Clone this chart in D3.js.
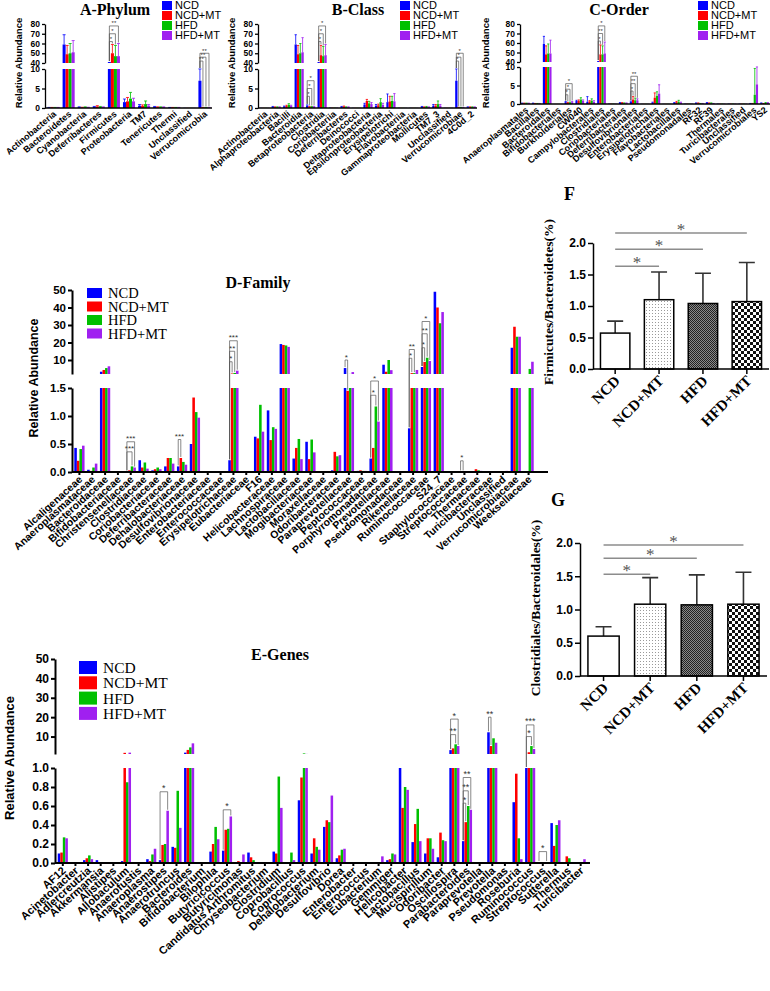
<!DOCTYPE html>
<html><head><meta charset="utf-8">
<script src="https://cdn.jsdelivr.net/npm/d3@7"></script>
<style>body{margin:0;background:#fff}svg{display:block}</style>
</head><body><svg id="c" width="770" height="991"></svg>
<script>
const groups = ["NCD","NCD+MT","HFD","HFD+MT"];
const colors = ["#0000ff","#ff0000","#00c000","#a020f0"];

// ---------- A Phylum ----------
const phylum = ["Actinobacteria","Bacteroidetes","Cyanobacteria","Deferribacteres","Firmicutes","Proteobacteria","TM7","Tenericutes","Thermi","Unclassified","Verrucomicrobia"];
const phylumNCD   = [0.1, 59, 0.2, 0.3, 41, 1.5, 0.6, 0.3, 0.1, 0.05, 7];
const phylumNCDMT = [0.1, 49, 0.1, 0.4, 50, 1.7, 0.5, 0.2, 0.1, 0.05, 0.1];
const phylumHFD   = [0.1, 50, 0.2, 0.3, 47, 2.4, 1.0, 0.2, 0.1, 0.05, 0.1];
const phylumHFDMT = [0.1, 51, 0.1, 0.2, 47, 1.7, 0.6, 0.2, 0.1, 0.05, 0.1];
const phylumSdNCD   = [0.05, 10, 0.1, 0.1, 0, 0.8, 0.3, 0.1, 0.05, 0, 3.2];
const phylumSdNCDMT = [0.05, 9, 0.1, 0.2, 9, 1.0, 0.3, 0.1, 0.05, 0, 0.05];
const phylumSdHFD   = [0.05, 10, 0.1, 0.1, 11, 1.6, 0.8, 0.1, 0.05, 0, 0.05];
const phylumSdHFDMT = [0.05, 12, 0.1, 0.1, 13, 0.8, 0.3, 0.1, 0.05, 0, 0.05];
const sigA = [["Firmicutes",0,1,62,"*"],["Firmicutes",0,2,70,"*"],["Firmicutes",0,3,78,"**"],
  ["Verrucomicrobia",0,1,42,"**"],["Verrucomicrobia",0,2,46,"**"],["Verrucomicrobia",0,3,50,"**"]];

// ---------- B Class ----------
const classes = ["Actinobacteria","Alphaproteobacteria","Bacilli","Bacteroidia","Betaproteobacteria","Clostridia","Coriobacteriia","Deferribacteres","Deinococci","Deltaproteobacteria","Epsilonproteobacteria","Erysipelotrichi","Flavobacteriia","Gammaproteobacteria","Mollicutes","TM7_3","Unclassified","Verrucomicrobiae","4C0d_2"];
const classNCD   = [0.05, 0.3, 0.4, 59, 0.6, 41, 0.1, 0.3, 0.05, 0.9, 0.6, 1.5, 0.05, 0.05, 0.3, 0.6, 0.05, 7, 0.2];
const classNCDMT = [0.05, 0.2, 0.5, 49, 0.3, 48, 0.1, 0.4, 0.05, 1.8, 0.7, 1.7, 0.05, 0.05, 0.2, 0.6, 0.05, 0.1, 0.2];
const classHFD   = [0.05, 0.2, 0.8, 50, 0.3, 47, 0.1, 0.2, 0.05, 1.2, 1.5, 1.8, 0.05, 0.05, 0.3, 1.0, 0.05, 0.1, 0.2];
const classHFDMT = [0.05, 0.2, 0.5, 51, 0.3, 48, 0.1, 0.2, 0.05, 1.0, 0.8, 1.7, 0.05, 0.05, 0.2, 0.6, 0.05, 0.1, 0.2];
const classSdNCD   = [0, 0.1, 0.1, 10, 0.2, 0, 0, 0.1, 0, 0.3, 0.3, 2.1, 0, 0, 0.1, 0.3, 0, 3.2, 0.1];
const classSdNCDMT = [0, 0.1, 0.2, 9, 0.1, 10, 0, 0.1, 0, 0.4, 0.3, 1.3, 0, 0, 0.1, 0.3, 0, 0.05, 0.1];
const classSdHFD   = [0, 0.1, 0.3, 10, 0.1, 10, 0, 0.1, 0, 0.5, 0.9, 1.2, 0, 0, 0.1, 0.8, 0, 0.05, 0.1];
const classSdHFDMT = [0, 0.1, 0.2, 15, 0.1, 11, 0, 0.1, 0, 0.4, 0.4, 2.0, 0, 0, 0.1, 0.3, 0, 0.05, 0.1];
const sigB = [["Betaproteobacteria",0,1,3,"*"],["Betaproteobacteria",0,2,5,"*"],["Betaproteobacteria",0,3,7,"*"],
  ["Clostridia",0,1,62,"*"],["Clostridia",0,2,70,"*"],["Clostridia",0,3,78,"*"],
  ["Verrucomicrobiae",0,1,42,"*"],["Verrucomicrobiae",0,2,46,"*"],["Verrucomicrobiae",0,3,50,"*"]];

// ---------- C Order ----------
const orders = ["Anaeroplasmatales","Bacillales","Bacteroidales","Bifidobacteriales","Burkholderiales","CW040","Campylobacterales","Clostridiales","Coriobacteriales","Deferribacterales","Desulfovibrionales","Enterobacteriales","Erysipelotrichales","Flavobacteriales","Lactobacillales","Pseudomonadales","RF32","RF39","Thermales","Turicibacterales","Unclassified","Verrucomicrobiales","YS2"];
const orderNCD   = [0.2, 0.2, 59, 0.02, 0.5, 0.8, 0.6, 41, 0.1, 0.3, 0.6, 0.05, 0.4, 0.05, 0.3, 0.1, 0.2, 0.3, 0.1, 0.1, 0.1, 0.1, 0.2];
const orderNCDMT = [0.2, 0.1, 48, 0.02, 0.3, 0.8, 0.7, 48, 0.1, 0.3, 1.2, 0.05, 1.7, 0.05, 0.5, 0.1, 0.2, 0.2, 0.1, 0.1, 0.1, 0.1, 0.1];
const orderHFD   = [0.2, 0.1, 49, 0.02, 0.4, 1.2, 0.9, 48, 0.1, 0.2, 1.0, 0.05, 2.2, 0.05, 0.6, 0.1, 0.1, 0.2, 0.1, 0.1, 0.1, 2.5, 0.3];
const orderHFDMT = [0.2, 0.1, 49, 0.02, 0.5, 0.8, 0.6, 49, 0.1, 0.2, 1.0, 0.05, 2.8, 0.05, 0.4, 0.1, 0.1, 0.1, 0.1, 0.1, 0.1, 5.3, 0.3];
const orderSdNCD   = [0.05, 0.05, 8, 0, 0.2, 0.2, 1.4, 0, 0, 0.1, 0.2, 0, 0.1, 0, 0.1, 0, 0.1, 0.1, 0, 0, 0, 0.05, 0.1];
const orderSdNCDMT = [0.05, 0.05, 9, 0, 0.1, 0.3, 0.2, 10, 0, 0.1, 0.8, 0, 1.3, 0, 0.2, 0, 0.1, 0.1, 0, 0, 0, 0.05, 0.05];
const orderSdHFD   = [0.05, 0.05, 10, 0, 0.1, 0.5, 0.5, 9, 0, 0.1, 0.6, 0, 1.1, 0, 0.4, 0, 0.05, 0.1, 0, 0, 0, 7.1, 0.1];
const orderSdHFDMT = [0.05, 0.05, 14, 0, 0.2, 0.3, 0.3, 12, 0, 0.1, 0.4, 0, 2.4, 0, 0.1, 0, 0.05, 0.05, 0, 0, 0, 5, 0.1];
const sigC = [["Burkholderiales",0,1,2.5,"*"],["Burkholderiales",0,2,4,"*"],["Burkholderiales",0,3,5.5,"*"],
  ["Clostridiales",0,1,62,"*"],["Clostridiales",0,2,70,"**"],["Clostridiales",0,3,78,"*"],
  ["Desulfovibrionales",0,1,3.5,"*"],["Desulfovibrionales",0,2,5.5,"**"],["Desulfovibrionales",0,3,7.5,"**"]];

// ---------- D Family ----------
const families = ["Alcaligenaceae","Anaeroplasmataceae","Bacteroidaceae","Bifidobacteriaceae","Christensenellaceae","Clostridiaceae","Coriobacteriaceae","Deferribacteraceae","Dehalobacteriaceae","Desulfovibrionaceae","Enterobacteriaceae","Enterococcaceae","Erysipelotrichaceae","Eubacteriaceae","F16","Helicobacteraceae","Lachnospiraceae","Lactobacillaceae","Mogibacteriaceae","Moraxellaceae","Odoribacteraceae","Paraprevotellaceae","Peptococcaceae","Porphyromonadaceae","Prevotellaceae","Pseudomonadaceae","Rikenellaceae","Ruminococcaceae","S24_7","Staphylococcaceae","Streptococcaceae","Thermaceae","Turicibacteraceae","Unclassified","Verrucomicrobiaceae","Weeksellaceae"];
const familyNCD   = [0.43, 0.04, 3.3, 0, 0.01, 0.21, 0.03, 0.1, 0.1, 0.5, 0.01, 0, 0.21, 0, 0.63, 1.1, 19.1, 0.24, 0.54, 0, 0.03, 5.4, 0.02, 0.24, 7.3, 0, 0.78, 6, 49, 0, 0.01, 0.01, 0.01, 0, 17, 0.01];
const familyNCDMT = [0.2, 0.02, 4.3, 0, 0.03, 0.08, 0.05, 0.25, 0.25, 1.33, 0.01, 0, 2.3, 0, 0.6, 0.57, 18.6, 0.43, 0.23, 0, 0.36, 1.45, 0.03, 0.43, 3.3, 0, 2.5, 8.9, 40, 0, 0.01, 0.05, 0.01, 0, 29, 0.01];
const familyHFD   = [0.41, 0.08, 5.4, 0, 0.1, 0.17, 0.08, 0.25, 0.18, 1.07, 0.01, 0, 2.6, 0, 1.2, 0.8, 18.3, 0.59, 0.58, 0, 0.28, 2.05, 0.02, 1.17, 10, 0, 2.5, 11.3, 31, 0, 0.01, 0.03, 0.01, 0.01, 23.3, 4.9];
const familyHFDMT = [0.47, 0.15, 6.4, 0, 0.08, 0.06, 0.05, 0.15, 0.13, 0.97, 0.01, 0, 3.9, 0, 0.72, 0.77, 17.5, 0.23, 0.35, 0, 0.3, 3.1, 0.02, 0.9, 4.2, 0, 4.3, 9.4, 37.4, 0, 0.01, 0.02, 0.01, 0.02, 23.3, 9];
const sigD = [["Christensenellaceae",0,2,0.36,"***"],["Christensenellaceae",0,3,0.54,"***"],["Dehalobacteriaceae",0,1,0.58,"***"],
  ["Erysipelotrichaceae",0,1,9,"*"],["Erysipelotrichaceae",0,2,15,"**"],["Erysipelotrichaceae",0,3,21,"***"],
  ["Paraprevotellaceae",0,1,10,"*"],["Porphyromonadaceae",0,2,1.37,"*"],["Porphyromonadaceae",0,3,1.75,"*"],
  ["Rikenellaceae",0,1,11,"*"],["Rikenellaceae",0,2,16,"**"],
  ["Ruminococcaceae",0,1,17,"*"],["Ruminococcaceae",0,2,25,"**"],["Ruminococcaceae",0,3,32,"*"],
  ["Streptococcaceae",0,1,0.2,"*"]];

// ---------- E Genes ----------
const genes = ["AF12","Acinetobacter","Adlercreutzia","Akkermansia","Alistipes","Allobaculum","Anaerofustis","Anaeroplasma","Anaerostipes","Anaerotruncus","Bacteroides","Bifidobacterium","Bilophila","Butyricicoccus","Butyricimonas","Candidatus Arthromitus","Chryseobacterium","Clostridium","Coprobacillus","Coprococcus","Dehalobacterium","Desulfovibrio","Dorea","Enterobacter","Enterococcus","Eubacterium","Gemmiger","Helicobacter","Lactobacillus","Mucispirillum","Odoribacter","Oscillospira","Parabacteroides","Paraprevotella","Prevotella","Pseudomonas","Roseburia","Ruminococcus","Streptococcus","Sutterella","Thermus","Turicibacter"];
const geneNCD   = [0.1, 0, 0.03, 0.03, 0.01, 0.02, 0, 0.04, 0.03, 0.17, 1.7, 0, 0.12, 0.13, 0, 0.11, 0, 0.12, 0.01, 0.66, 0.1, 0.38, 0.05, 0, 0, 0, 0.03, 1.0, 0.22, 0.1, 0.06, 3.0, 0.23, 0.01, 12.2, 0.01, 0.64, 1.0, 0.01, 0.42, 0, 0];
const geneNCDMT = [0.11, 0.01, 0.05, 0.01, 0.01, 1.6, 0, 0.02, 0.19, 0.16, 3.1, 0, 0.2, 0.35, 0.02, 0.06, 0, 0.1, 0.01, 0.9, 0.26, 0.45, 0.08, 0, 0, 0, 0.04, 0.58, 0.41, 0.26, 0.32, 3.9, 0.43, 0, 5.1, 0, 0.94, 1.9, 0.01, 0.18, 0.07, 0];
const geneHFD   = [0.27, 0, 0.08, 0.01, 0.01, 0.85, 0.01, 0.09, 0.2, 0.76, 4.4, 0, 0.38, 0.36, 0, 0.03, 0, 0.91, 0.11, 1.3, 0.17, 0.43, 0.14, 0.01, 0.01, 0, 0.1, 0.8, 0.57, 0.26, 0.24, 6.0, 0.6, 0, 9.1, 0, 0.26, 5.1, 0.01, 0.4, 0.05, 0];
const geneHFDMT = [0.26, 0, 0.04, 0.01, 0.01, 1.7, 0, 0.15, 0.55, 0.37, 6.5, 0, 0.25, 0.49, 0.09, 0.01, 0, 0.58, 0.03, 1.05, 0.14, 0.71, 0.15, 0, 0, 0.07, 0.09, 0.77, 0.23, 0.15, 0.23, 5.1, 0.56, 0, 6.8, 0, 0.04, 3.6, 0.01, 0.45, 0, 0.04];
const sigE = [["Anaerostipes",0,3,0.75,"*"],["Butyricicoccus",0,3,0.56,"*"],["Oscillospira",0,2,11,"**"],["Oscillospira",0,3,19,"*"],
  ["Parabacteroides",0,1,0.63,"*"],["Parabacteroides",0,2,0.76,"**"],["Parabacteroides",0,3,0.9,"**"],
  ["Prevotella",0,1,20,"**"],["Ruminococcus",0,2,10,"*"],["Ruminococcus",0,3,16,"***"],["Streptococcus",0,3,0.12,"*"]];

// ---------- F / G ratios ----------
const ratioF = [0.57, 1.10, 1.04, 1.07];
const ratioFsd = [0.19, 0.44, 0.48, 0.62];
const ratioG = [0.60, 1.08, 1.07, 1.08];
const ratioGsd = [0.14, 0.40, 0.45, 0.48];
const sigFlevels = [1.63, 1.9, 2.16];
const sigGlevels = [1.53, 1.77, 1.97];
const ratioTicks = [0, 0.5, 1.0, 1.5, 2.0];

const svg = d3.select("#c");
const defs = svg.append("defs");
{
  const p1 = defs.append("pattern").attr("id","pDots").attr("width",3).attr("height",3).attr("patternUnits","userSpaceOnUse");
  p1.append("rect").attr("width",3).attr("height",3).attr("fill","#fff");
  p1.append("rect").attr("x",1).attr("y",1).attr("width",1).attr("height",1).attr("fill","#9a9a9a");
  const p2 = defs.append("pattern").attr("id","pDense").attr("width",2).attr("height",2).attr("patternUnits","userSpaceOnUse");
  p2.append("rect").attr("width",2).attr("height",2).attr("fill","#8a8a8a");
  p2.append("rect").attr("width",1).attr("height",1).attr("fill","#222");
  p2.append("rect").attr("x",1).attr("y",1).attr("width",1).attr("height",1).attr("fill","#222");
  const p3 = defs.append("pattern").attr("id","pCheck").attr("width",6).attr("height",6).attr("patternUnits","userSpaceOnUse");
  p3.append("rect").attr("width",6).attr("height",6).attr("fill","#fff");
  p3.append("rect").attr("width",3).attr("height",3).attr("fill","#111");
  p3.append("rect").attr("x",3).attr("y",3).attr("width",3).attr("height",3).attr("fill","#111");
}
const ratioFills = ["#ffffff","url(#pDots)","url(#pDense)","url(#pCheck)"];

function brokenScale(lowDom, lowRange, upDom, upRange){
  const lo = d3.scaleLinear(lowDom, lowRange), up = d3.scaleLinear(upDom, upRange);
  const gap = d3.scaleLinear([lowDom[1], upDom[0]], [lowRange[1], upRange[0]]);
  const f = v => v <= lowDom[1] ? lo(v) : (v >= upDom[0] ? up(v) : gap(v));
  f.lo = lo; f.up = up; return f;
}

function styleAxis(ax, c){
  ax.selectAll(".domain").attr("stroke","#000").attr("stroke-width",c.axisW);
  ax.selectAll(".tick line").attr("stroke","#000").attr("stroke-width",c.axisW);
  ax.selectAll(".tick text").attr("font-family","Arial, Liberation Sans, sans-serif").attr("font-weight","bold")
    .attr("font-size",c.tickFont).attr("fill","#000");
}

function grouped(c){
  const g = svg.append("g");
  const x = d3.scaleBand(c.cats, c.xRange).paddingInner(0.2).paddingOuter(0.1);
  const xi = d3.scaleBand(d3.range(4), [0, x.bandwidth()]);
  const y = brokenScale(c.lowDom, c.lowRange, c.upDom, c.upRange);
  const y0 = y.lo(0), lowMax = c.lowDom[1], upMin = c.upDom[0];
  const recs = [];
  c.series.forEach((vals, gi) => vals.forEach((v, ci) =>
    recs.push({cat: c.cats[ci], gi, v, sd: c.sds ? c.sds[gi][ci] : 0})));
  const bw = xi.bandwidth();
  const bx = d => x(d.cat) + xi(d.gi);
  g.append("g").selectAll("rect").data(recs).join("rect")
    .attr("x", bx).attr("width", bw)
    .attr("y", d => y.lo(Math.min(d.v, lowMax)))
    .attr("height", d => y0 - y.lo(Math.min(d.v, lowMax)))
    .attr("fill", d => colors[d.gi]);
  g.append("g").selectAll("rect").data(recs.filter(d => d.v > upMin)).join("rect")
    .attr("x", bx).attr("width", bw)
    .attr("y", d => y.up(d.v)).attr("height", d => y.up(upMin) - y.up(d.v))
    .attr("fill", d => colors[d.gi]);
  g.append("g").selectAll("path").data(recs.filter(d => d.sd > 0)).join("path")
    .attr("d", d => { const cx = bx(d) + bw/2, t = y(d.v + d.sd);
      return `M${cx},${y(d.v)}V${t}M${cx-bw/2},${t}H${cx+bw/2}`; })
    .attr("stroke", d => colors[d.gi]).attr("stroke-width", 0.8).attr("fill","none");
  // significance brackets
  const sg = g.append("g");
  const top = (cat, gi) => { const ci = c.cats.indexOf(cat); return c.series[gi][ci] + (c.sds ? c.sds[gi][ci] : 0); };
  c.sig.forEach(([cat, g1, g2, lvl, lab]) => {
    const x1 = x(cat) + xi(g1) + bw/2, x2 = x(cat) + xi(g2) + bw/2, yl = y(lvl);
    sg.append("path").attr("d", `M${x1},${y(top(cat,g1)) - 1}V${yl}H${x2}V${y(top(cat,g2)) - 1}`)
      .attr("fill","none").attr("stroke","#555").attr("stroke-width",0.7);
    sg.append("text").attr("x", (x1+x2)/2).attr("y", yl - 0.5).attr("text-anchor","middle")
      .attr("font-family","Arial, sans-serif").attr("font-size", c.sigFont).attr("fill","#333").text(lab);
  });
  // axes
  const yaxLo = g.append("g").attr("transform",`translate(${c.axisX},0)`)
    .call(d3.axisLeft(y.lo).tickValues(c.lowTicks).tickFormat(c.fmtLo).tickSize(c.tickLen).tickSizeOuter(0).tickPadding(2));
  const yaxUp = g.append("g").attr("transform",`translate(${c.axisX},0)`)
    .call(d3.axisLeft(y.up).tickValues(c.upTicks).tickFormat(c.fmtUp).tickSize(c.tickLen).tickSizeOuter(0).tickPadding(2));
  styleAxis(yaxLo, c); styleAxis(yaxUp, c);
  g.append("line").attr("x1", c.axisX).attr("x2", c.axisEnd).attr("y1", y0).attr("y2", y0)
    .attr("stroke","#000").attr("stroke-width", c.axisW);
  const xax = g.append("g").attr("transform",`translate(0,${y0})`)
    .call(d3.axisBottom(x).tickSize(c.xTickLen).tickSizeOuter(0));
  xax.select(".domain").remove();
  xax.selectAll(".tick line").attr("stroke","#000").attr("stroke-width", c.axisW);
  xax.selectAll(".tick text").attr("font-family","Arial, Liberation Sans, sans-serif").attr("font-weight","bold")
    .attr("font-size", c.labFont).attr("fill","#000").attr("text-anchor","end")
    .attr("x", 0).attr("y", 0).attr("dx","-0.1em").attr("dy","0.35em")
    .attr("transform", `translate(${c.labDx},${c.labDy}) rotate(${c.rot})`);
  // title
  g.append("text").attr("x", c.title[1]).attr("y", c.title[2]).attr("text-anchor","middle")
    .attr("font-family","Times New Roman, Liberation Serif, serif").attr("font-weight","bold")
    .attr("font-size", c.titleFont).text(c.title[0]);
  // y label
  g.append("text").attr("transform",`translate(${c.ylab[0]},${c.ylab[1]}) rotate(-90)`).attr("text-anchor","middle")
    .attr("font-family","Arial, Liberation Sans, sans-serif").attr("font-weight","bold")
    .attr("font-size", c.ylab[2]).text("Relative Abundance");
  // legend
  const L = c.legend;
  const lg = g.append("g").selectAll("g").data(groups).join("g")
    .attr("transform", (d,i) => `translate(${L.x},${L.y + i*L.step})`);
  lg.append("rect").attr("width", L.w).attr("height", L.h).attr("fill", (d,i) => colors[i]);
  lg.append("text").attr("x", L.tx).attr("y", L.h/2).attr("dy","0.35em")
    .attr("font-family", L.family).attr("font-size", L.font).text(d => d);
}

const fmtInt = d3.format("d"), fmt1 = d3.format(".1f");

grouped({cats: phylum, series: [phylumNCD, phylumNCDMT, phylumHFD, phylumHFDMT],
  sds: [phylumSdNCD, phylumSdNCDMT, phylumSdHFD, phylumSdHFDMT], sig: sigA,
  xRange: [46, 212], axisX: 45, axisEnd: 212,
  lowDom: [0,10], lowRange: [108, 69], upDom: [40,80], upRange: [63, 24],
  lowTicks: [0,5,10], upTicks: [40,50,60,70,80], fmtLo: fmtInt, fmtUp: fmtInt,
  tickLen: 3, tickFont: 8.5, axisW: 1.3, xTickLen: 0, labFont: 9, labDx: 2, labDy: 4, rot: -40, sigFont: 6,
  title: ["A-Phylum", 115, 15], titleFont: 16, ylab: [22, 63, 9.5],
  legend: {x: 162, y: 1, step: 10, w: 10, h: 9, tx: 13, font: 11, family: "Arial, sans-serif"}});

grouped({cats: classes, series: [classNCD, classNCDMT, classHFD, classHFDMT],
  sds: [classSdNCD, classSdNCDMT, classSdHFD, classSdHFDMT], sig: sigB,
  xRange: [259, 477], axisX: 258, axisEnd: 477,
  lowDom: [0,10], lowRange: [108, 69], upDom: [40,80], upRange: [63, 24],
  lowTicks: [0,5,10], upTicks: [40,50,60,70,80], fmtLo: fmtInt, fmtUp: fmtInt,
  tickLen: 3, tickFont: 8.5, axisW: 1.3, xTickLen: 0, labFont: 9, labDx: 2, labDy: 4, rot: -40, sigFont: 6,
  title: ["B-Class", 358, 15], titleFont: 16, ylab: [235, 63, 9.5],
  legend: {x: 400, y: 1, step: 10, w: 10, h: 9, tx: 13, font: 11, family: "Arial, sans-serif"}});

grouped({cats: orders, series: [orderNCD, orderNCDMT, orderHFD, orderHFDMT],
  sds: [orderSdNCD, orderSdNCDMT, orderSdHFD, orderSdHFDMT], sig: sigC,
  xRange: [520, 770], axisX: 520, axisEnd: 770,
  lowDom: [0,10], lowRange: [104, 67], upDom: [40,80], upRange: [62, 24],
  lowTicks: [0,5,10], upTicks: [40,50,60,70,80], fmtLo: fmtInt, fmtUp: fmtInt,
  tickLen: 3, tickFont: 8.5, axisW: 1.3, xTickLen: 0, labFont: 9, labDx: 2, labDy: 4, rot: -40, sigFont: 6,
  title: ["C-Order", 619, 15], titleFont: 16, ylab: [489, 63, 9.5],
  legend: {x: 698, y: 1, step: 10, w: 10, h: 9, tx: 13, font: 11, family: "Arial, sans-serif"}});

grouped({cats: families, series: [familyNCD, familyNCDMT, familyHFD, familyHFDMT], sig: sigD,
  xRange: [73, 535], axisX: 72, axisEnd: 548,
  lowDom: [0,1.5], lowRange: [472, 388], upDom: [2,50], upRange: [374, 290],
  lowTicks: [0,0.5,1.0,1.5], upTicks: [10,20,30,40,50], fmtLo: fmt1, fmtUp: fmtInt,
  tickLen: 4, tickFont: 11.5, axisW: 2, xTickLen: 3, labFont: 10.5, labDx: 2, labDy: 5, rot: -42, sigFont: 8,
  title: ["D-Family", 258, 288], titleFont: 16, ylab: [38, 378, 12.5],
  legend: {x: 87, y: 288, step: 13.5, w: 15, h: 10, tx: 21, font: 14.5, family: "Times New Roman, Liberation Serif, serif"}});

grouped({cats: genes, series: [geneNCD, geneNCDMT, geneHFD, geneHFDMT], sig: sigE,
  xRange: [56.5, 587], axisX: 55, axisEnd: 590,
  lowDom: [0,1], lowRange: [863, 768], upDom: [1,50], upRange: [754, 659],
  lowTicks: [0,0.2,0.4,0.6,0.8,1.0], upTicks: [10,20,30,40,50], fmtLo: fmt1, fmtUp: fmtInt,
  tickLen: 4, tickFont: 12, axisW: 2, xTickLen: 3, labFont: 11, labDx: 2, labDy: 5, rot: -42, sigFont: 9,
  title: ["E-Genes", 280, 660], titleFont: 16, ylab: [14, 758, 13],
  legend: {x: 79, y: 661, step: 15.3, w: 18, h: 13, tx: 24, font: 15.5, family: "Times New Roman, Liberation Serif, serif"}});

function ratioPanel(c){
  const g = svg.append("g");
  const x = d3.scaleBand(groups, c.xRange).paddingInner(0.33).paddingOuter(0.17);
  const y = d3.scaleLinear([0, 2], c.yRange);
  const y0 = y(0);
  const recs = groups.map((k, i) => ({k, i, v: c.vals[i], sd: c.sds[i]}));
  g.append("g").selectAll("path").data(recs).join("path")
    .attr("d", d => { const cx = x(d.k) + x.bandwidth()/2, t = y(d.v + d.sd);
      return `M${cx},${y(d.v)}V${t}M${cx-8},${t}H${cx+8}`; })
    .attr("stroke","#333").attr("stroke-width",1.6).attr("fill","none");
  g.append("g").selectAll("rect").data(recs).join("rect")
    .attr("x", d => x(d.k)).attr("width", x.bandwidth())
    .attr("y", d => y(d.v)).attr("height", d => y0 - y(d.v))
    .attr("fill", d => ratioFills[d.i]).attr("stroke","#000").attr("stroke-width",1.5);
  const cx = k => x(k) + x.bandwidth()/2;
  c.sig.forEach((lvl, j) => {
    const x1 = cx(groups[0]), x2 = cx(groups[j+1]);
    g.append("line").attr("x1", x1).attr("x2", x2).attr("y1", y(lvl)).attr("y2", y(lvl))
      .attr("stroke","#8c8c8c").attr("stroke-width",1.5);
    g.append("text").attr("x", (x1+x2)/2).attr("y", y(lvl) + 2).attr("text-anchor","middle")
      .attr("font-family","Times New Roman, Liberation Serif, serif").attr("font-size",17).attr("fill","#555").text("*");
  });
  const yax = g.append("g").attr("transform",`translate(${c.axisX},0)`)
    .call(d3.axisLeft(y).tickValues(ratioTicks).tickFormat(fmt1).tickSize(5).tickSizeOuter(0).tickPadding(2));
  styleAxis(yax, {axisW: 1.5, tickFont: 12});
  g.append("line").attr("x1", c.axisX).attr("x2", c.xRange[1]).attr("y1", y0).attr("y2", y0)
    .attr("stroke","#000").attr("stroke-width",1.5);
  const xax = g.append("g").attr("transform",`translate(0,${y0})`)
    .call(d3.axisBottom(x).tickSize(5).tickSizeOuter(0));
  xax.select(".domain").remove();
  xax.selectAll(".tick line").attr("stroke","#000").attr("stroke-width",1.5);
  xax.selectAll(".tick text").attr("font-family","Times New Roman, Liberation Serif, serif").attr("font-weight","bold")
    .attr("font-size",15).attr("fill","#000").attr("text-anchor","end")
    .attr("x",0).attr("y",0).attr("dx","-0.1em").attr("dy","0.35em")
    .attr("transform","translate(3,8) rotate(-45)");
  g.append("text").attr("transform",`translate(${c.ylab[0]},${c.ylab[1]}) rotate(-90)`).attr("text-anchor","middle")
    .attr("font-family","Times New Roman, Liberation Serif, serif").attr("font-weight","bold").attr("font-size",13.5)
    .text(c.ylab[2]);
  g.append("text").attr("x", c.letter[1]).attr("y", c.letter[2])
    .attr("font-family","Times New Roman, Liberation Serif, serif").attr("font-weight","bold").attr("font-size",18)
    .text(c.letter[0]);
}

ratioPanel({vals: ratioF, sds: ratioFsd, sig: sigFlevels, xRange: [593, 769], yRange: [369, 243], axisX: 593,
  ylab: [553, 302, "Firmicutes/Bacteroidetes(%)"], letter: ["F", 564, 200]});
ratioPanel({vals: ratioG, sds: ratioGsd, sig: sigGlevels, xRange: [580, 767], yRange: [676, 543], axisX: 580,
  ylab: [540, 608, "Clostridiales/Bacteroidales(%)"], letter: ["G", 551, 506]});
</script>
</body></html>
